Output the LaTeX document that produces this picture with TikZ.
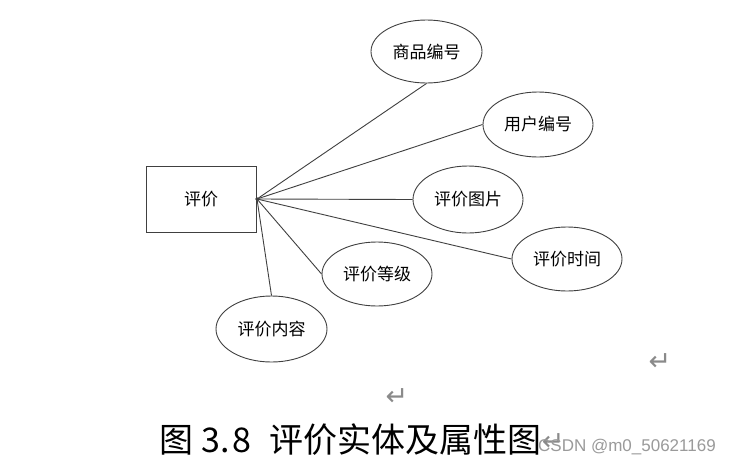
\documentclass[tikz,border=0pt]{standalone}
\usepackage{fontspec}
\setmainfont{Liberation Sans}
\newfontfamily\cjk{Noto Sans CJK SC}
\newfontfamily\symfont{DejaVu Sans}
\usetikzlibrary{shapes.geometric}
\definecolor{linegray}{HTML}{404040}
\definecolor{markgray}{HTML}{8A8A8A}
\definecolor{wmgray}{HTML}{9A9A9A}
\tikzset{
  attr/.style={ellipse, draw=linegray, line width=0.9pt, minimum width=110pt, minimum height=64pt, inner sep=0pt, font=\cjk\fontsize{17}{19}\selectfont},
  entity/.style={rectangle, draw=linegray, line width=0.9pt, minimum width=110pt, minimum height=66pt, inner sep=0pt, font=\cjk\fontsize{17}{19}\selectfont},
  conn/.style={draw=linegray, line width=0.9pt},
  retmark/.style={text=markgray, font=\symfont\fontsize{27}{27}\selectfont, inner sep=0pt}
}
\begin{document}
\begin{tikzpicture}[x=1pt,y=-1pt]
\useasboundingbox (0,0) rectangle (729,464);
\fill[white] (0,0) rectangle (729,464);
\node[entity] (pj) at (201,199) {评价};
\coordinate (hub) at (257,199);
\node[attr, minimum width=111pt, minimum height=63pt] (spbh) at (426.5,51.5) {商品编号};
\node[attr, minimum height=65pt] (yhbh) at (538,124.5) {用户编号};
\node[attr, minimum height=67pt] (pjtp) at (468,199.5) {评价图片};
\node[attr] (pjsj) at (567,259) {评价时间};
\node[attr] (pjdj) at (377,274) {评价等级};
\node[attr, minimum width=111pt, minimum height=66pt] (pjnr) at (271.5,329) {评价内容};
\fill[linegray] (hub) circle (1.8pt);
\draw[conn] (hub) -- (spbh.south);
\draw[conn] (hub) -- (yhbh.west);
\draw[conn] (hub) -- (pjtp.west);
\draw[conn] (hub) -- (pjsj.west);
\draw[conn] (hub) -- (pjdj.west);
\draw[conn] (hub) -- (pjnr.north);
\node[retmark] (r1) at (660,362) {↵};
\node[retmark] (r2) at (397,397) {↵};
\node[font=\cjk\fontsize{34}{36}\selectfont, inner sep=0pt, anchor=west] (cap) at (159,440) {图\hspace{8pt}3.\kern3pt8\hspace{18pt}评价实体及属性图};
\node[retmark, anchor=west] (r3) at ([xshift=0pt,yshift=-2pt]cap.east) {↵};
\node[text=wmgray, font=\fontsize{17}{18}\selectfont, anchor=west, inner sep=0pt] (wm) at (538,447) {CSDN @m0\_50621169};
\end{tikzpicture}
\end{document}
